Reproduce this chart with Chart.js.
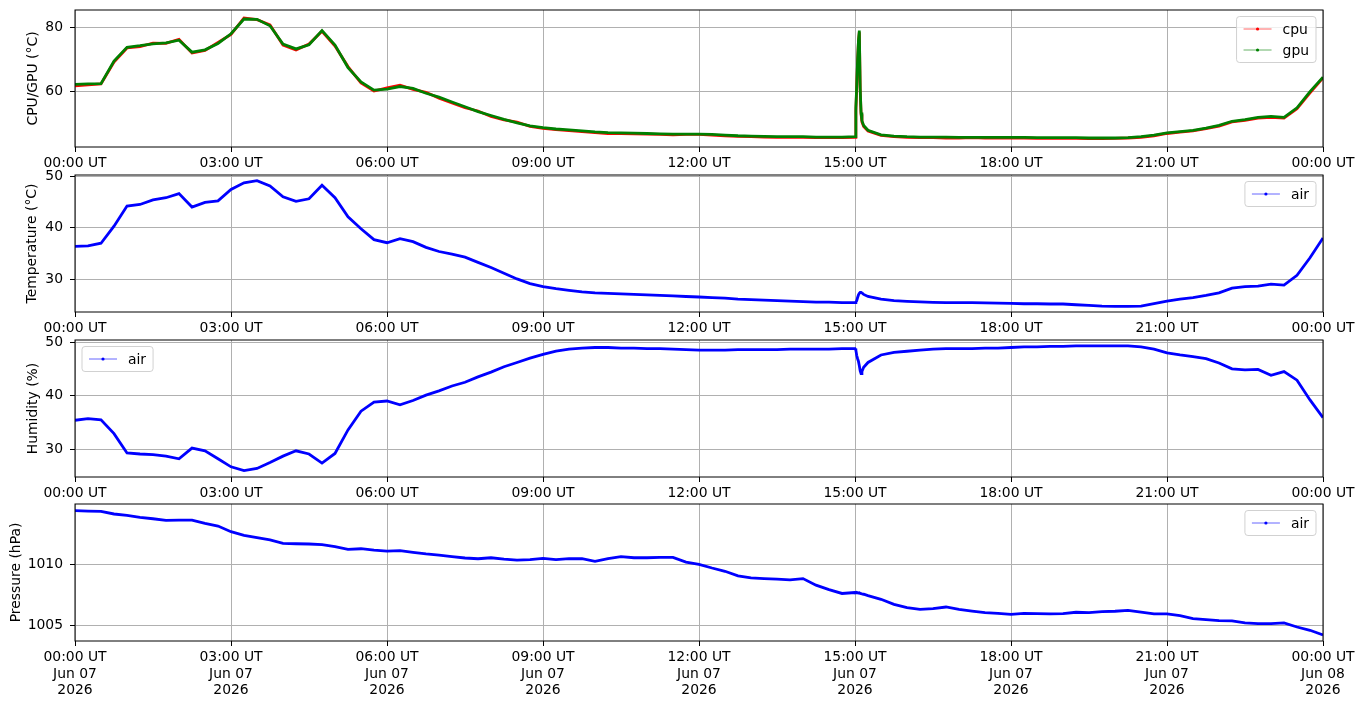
<!DOCTYPE html>
<html>
<head>
<meta charset="utf-8">
<script src="https://cdn.jsdelivr.net/npm/chart.js@4.4.1/dist/chart.umd.min.js"></script>
<style>
html, body { margin: 0; padding: 0; background: #fff; }
#fig { position: relative; width: 1364px; height: 707px; overflow: hidden; }
#fig canvas { position: absolute; left: 0; }
</style>
</head>
<body>
<div id="fig"></div>
<script>
// sample times in minutes after 00:00 UT, quarter-hourly plus the burst just after 15:00
const minutes = [...Array(61).keys()].map(i => i * 15)
    .concat([901, 902, 903, 904, 905, 906, 907, 908, 910])
    .concat([...Array(36).keys()].map(i => 915 + i * 15));

const cpu = [
    61.8, 62.1, 62.4, 69.2, 73.6, 74.0, 75.1, 75.0, 76.3, 72.0, 72.8, 75.3,
    77.8, 82.9, 82.4, 80.8, 74.5, 73.0, 74.8, 78.8, 74.2, 67.8, 62.7, 60.2,
    61.2, 62.0, 60.7, 59.8, 58.0, 56.5, 55.0, 54.0, 52.3, 51.2, 50.5, 49.2,
    48.6, 48.2, 47.9, 47.6, 47.3, 47.0, 47.0, 46.9, 46.8, 46.7, 46.6, 46.7,
    46.7, 46.5, 46.3, 46.1, 46.0, 45.9, 45.8, 45.8, 45.8, 45.7, 45.7, 45.7,
    45.8,
    54.0, 61.5, 69.5, 75.5, 78.5, 60.5, 53.0, 50.6, 49.2,
    47.8, 46.4, 46.0,
    45.8, 45.7, 45.7, 45.6, 45.6, 45.7, 45.6, 45.6, 45.6, 45.6, 45.5, 45.5,
    45.5, 45.5, 45.4, 45.4, 45.5, 45.6, 45.8, 46.3, 47.0, 47.4, 47.8, 48.5,
    49.3, 50.6, 51.1, 51.8, 52.0, 51.8, 54.7, 59.6, 64.3
];
const gpu = [
    62.3, 62.4, 62.5, 69.5, 73.8, 74.3, 74.9, 75.2, 76.0, 72.3, 73.0, 75.0,
    78.0, 82.6, 82.5, 80.5, 74.8, 73.3, 74.6, 79.0, 74.5, 67.5, 63.0, 60.5,
    60.8, 61.6, 61.0, 59.5, 58.3, 56.8, 55.3, 53.8, 52.6, 51.4, 50.3, 49.4,
    48.8, 48.4, 48.1, 47.8, 47.5, 47.3, 47.2, 47.1, 47.0, 46.9, 46.8, 46.8,
    46.8, 46.7, 46.5, 46.3, 46.2, 46.1, 46.0, 46.0, 46.0, 45.9, 45.9, 45.9,
    46.0,
    55.0, 62.0, 70.0, 76.0, 79.0, 61.0, 53.5, 51.0, 49.5,
    48.0, 46.6, 46.2,
    46.0, 45.9, 45.9, 45.9, 45.8, 45.8, 45.8, 45.8, 45.8, 45.8, 45.7, 45.7,
    45.7, 45.7, 45.6, 45.6, 45.6, 45.7, 46.0, 46.5, 47.2, 47.6, 48.0, 48.7,
    49.5, 50.8, 51.3, 52.0, 52.3, 52.0, 55.0, 60.0, 64.5
];
const airTemp = [
    36.4, 36.5, 37.0, 40.3, 44.2, 44.5, 45.4, 45.8, 46.6, 44.0, 44.9, 45.2,
    47.4, 48.7, 49.1, 48.1, 46.0, 45.1, 45.6, 48.2, 45.8, 42.1, 39.8, 37.7,
    37.1, 37.9, 37.3, 36.2, 35.4, 34.9, 34.3, 33.3, 32.3, 31.2, 30.1, 29.2,
    28.6, 28.2, 27.9, 27.6, 27.4, 27.3, 27.2, 27.1, 27.0, 26.9, 26.8, 26.7,
    26.6, 26.5, 26.4, 26.2, 26.1, 26.0, 25.9, 25.8, 25.7, 25.6, 25.6, 25.5,
    25.5,
    25.6, 25.9, 26.5, 27.0, 27.3, 27.5, 27.5, 27.4, 27.1,
    26.7, 26.2, 25.9,
    25.75, 25.65, 25.55, 25.5, 25.5, 25.5, 25.45, 25.4, 25.35, 25.3, 25.3, 25.25,
    25.25, 25.1, 25.0, 24.85, 24.8, 24.8, 24.85, 25.3, 25.8, 26.2, 26.5, 26.9,
    27.4, 28.3, 28.6, 28.7, 29.1, 28.9, 30.8, 34.2, 38.0
];
const airHum = [
    35.4, 35.7, 35.5, 32.9, 29.3, 29.1, 29.0, 28.7, 28.2, 30.2, 29.7, 28.2,
    26.7, 26.0, 26.4, 27.5, 28.7, 29.7, 29.1, 27.4, 29.2, 33.6, 37.1, 38.8,
    39.0, 38.3, 39.1, 40.1, 40.9, 41.8, 42.5, 43.5, 44.4, 45.4, 46.2, 47.0,
    47.7, 48.3, 48.7, 48.9, 49.0, 49.0, 48.9, 48.9, 48.8, 48.8, 48.7, 48.6,
    48.5, 48.5, 48.5, 48.6, 48.6, 48.6, 48.6, 48.7, 48.7, 48.7, 48.7, 48.8,
    48.8,
    48.5, 47.5, 46.9, 46.4, 45.6, 44.6, 44.1, 44.5, 45.3,
    46.2, 47.6, 48.1,
    48.3, 48.5, 48.7, 48.8, 48.8, 48.8, 48.9, 48.9, 49.0, 49.1, 49.1, 49.2,
    49.2, 49.3, 49.3, 49.3, 49.3, 49.3, 49.1, 48.7, 48.0, 47.6, 47.3, 46.9,
    46.1, 45.0, 44.8, 44.9, 43.8, 44.5, 42.9, 39.2, 35.9
];
const airPres = [
    1014.40, 1014.37, 1014.34, 1014.13, 1014.02, 1013.85, 1013.74, 1013.61,
    1013.63, 1013.63, 1013.36, 1013.14, 1012.68, 1012.38, 1012.19, 1012.00,
    1011.72, 1011.69, 1011.67, 1011.61, 1011.45, 1011.23, 1011.28, 1011.17,
    1011.09, 1011.12, 1010.98, 1010.85, 1010.75, 1010.63, 1010.52, 1010.46,
    1010.54, 1010.43, 1010.35, 1010.38, 1010.49, 1010.38, 1010.46, 1010.46,
    1010.24, 1010.46, 1010.63, 1010.54, 1010.54, 1010.57, 1010.57, 1010.19,
    1010.00, 1009.70, 1009.43, 1009.05, 1008.89, 1008.83, 1008.78, 1008.72,
    1008.83, 1008.29, 1007.93, 1007.61, 1007.69,
    1007.68, 1007.70, 1007.66, 1007.64, 1007.67, 1007.62, 1007.60, 1007.58, 1007.55,
    1007.43, 1007.13, 1006.72,
    1006.45, 1006.31, 1006.37, 1006.50, 1006.31, 1006.17, 1006.04, 1005.98,
    1005.90, 1005.98, 1005.96, 1005.93, 1005.96, 1006.07, 1006.04, 1006.12,
    1006.15, 1006.23, 1006.07, 1005.93, 1005.93, 1005.79, 1005.55, 1005.46,
    1005.38, 1005.36, 1005.19, 1005.14, 1005.14, 1005.19, 1004.86, 1004.59,
    1004.21
];

const cpuTicks = [60, 80];
const tempTicks = [30, 40, 50];
const humTicks = [30, 40, 50];
const presTicks = [1005, 1010];
const dayLabels = ["Jun 07", "Jun 08"];
const yearLabel = "2026";

const FONT = "'DejaVu Sans', sans-serif";
const FS = 13.9;

const pts = ys => minutes.map((m, i) => ({ x: m, y: ys[i] }));
const hhmm = v => String(Math.floor(v / 60) % 24).padStart(2, "0") + ":00 UT";

// matplotlib-like legend box and axes frame
const frameLegend = {
    id: "frameLegend",
    afterDraw(chart, args, opts) {
        const { ctx, chartArea: a } = chart;
        ctx.save();
        ctx.strokeStyle = "#000";
        ctx.lineWidth = 1;
        ctx.strokeRect(a.left, a.top, a.width, a.height);

        const sets = chart.data.datasets;
        ctx.font = FS + "px " + FONT;
        const tw = Math.max(...sets.map(d => ctx.measureText(d.label).width));
        const w = 7 + 28 + 11 + tw + 7;
        const h = 4 + 21 * sets.length;
        const x = opts.loc === "left" ? a.left + 7 : a.right - 7 - w;
        const y = a.top + 6.5;
        ctx.beginPath();
        ctx.roundRect(x, y, w, h, 3);
        ctx.fillStyle = "rgba(255,255,255,0.8)";
        ctx.fill();
        ctx.strokeStyle = "rgba(204,204,204,0.9)";
        ctx.stroke();

        sets.forEach((d, i) => {
            const cy = y + 12.5 + 21 * i;
            ctx.globalAlpha = 0.6;
            ctx.strokeStyle = d.borderColor;
            ctx.lineWidth = 1;
            ctx.beginPath();
            ctx.moveTo(x + 7, cy);
            ctx.lineTo(x + 35, cy);
            ctx.stroke();
            ctx.globalAlpha = 1;
            ctx.fillStyle = d.borderColor;
            ctx.beginPath();
            ctx.arc(x + 21, cy, 1.6, 0, Math.PI * 2);
            ctx.fill();
            ctx.fillStyle = "#000";
            ctx.textBaseline = "middle";
            ctx.fillText(d.label, x + 46, cy + 1);
        });
        ctx.restore();
    }
};

const line = (label, ys, color, order) => ({
    label,
    data: pts(ys),
    borderColor: color,
    backgroundColor: color,
    borderWidth: 2.8,
    pointRadius: 0,
    tension: 0,
    order
});

const panels = [
    { top: 0, xh: 30, padLeft: 21, yMin: 42.8, yMax: 85.4, yTicks: cpuTicks,
      title: "CPU/GPU (°C)", loc: "right",
      datasets: [line("cpu", cpu, "red", 1), line("gpu", gpu, "green", 0)] },
    { top: 165, xh: 30, padLeft: 20, yMin: 23.7, yMax: 50.2, yTicks: tempTicks,
      title: "Temperature (°C)", loc: "right",
      datasets: [line("air", airTemp, "blue", 0)] },
    { top: 330, xh: 30, padLeft: 21, yMin: 24.8, yMax: 50.4, yTicks: humTicks,
      title: "Humidity (%)", loc: "left",
      datasets: [line("air", airHum, "blue", 0)] },
    { top: 494, xh: 66, padLeft: 4, yMin: 1003.71, yMax: 1014.95, yTicks: presTicks,
      title: "Pressure (hPa)", loc: "right", dates: true,
      datasets: [line("air", airPres, "blue", 0)] }
];

const fig = document.getElementById("fig");
panels.forEach(p => {
    const canvas = document.createElement("canvas");
    const height = 10 + 137 + p.xh;
    canvas.width = 1364;
    canvas.height = height;
    canvas.style.top = p.top + "px";
    fig.appendChild(canvas);

    new Chart(canvas, {
        type: "line",
        data: { datasets: p.datasets },
        plugins: [frameLegend],
        options: {
            responsive: false,
            animation: false,
            devicePixelRatio: 1,
            layout: { padding: { top: 10, left: p.padLeft, right: 41, bottom: 0 } },
            font: { family: FONT, size: FS },
            plugins: {
                legend: { display: false },
                tooltip: { enabled: false },
                frameLegend: { loc: p.loc }
            },
            scales: {
                x: {
                    type: "linear",
                    min: 0,
                    max: 1440,
                    afterFit: s => { s.height = p.xh; },
                    afterBuildTicks: s => { s.ticks = [0, 180, 360, 540, 720, 900, 1080, 1260, 1440].map(v => ({ value: v })); },
                    border: { display: false },
                    grid: { color: "#b0b0b0", lineWidth: 1, tickColor: "#000", tickLength: 5 },
                    ticks: {
                        color: "#000",
                        font: { family: FONT, size: FS },
                        padding: 3,
                        maxRotation: 0,
                        autoSkip: false,
                        callback: v => p.dates
                            ? [hhmm(v), v < 1440 ? dayLabels[0] : dayLabels[1], yearLabel]
                            : hhmm(v)
                    }
                },
                y: {
                    type: "linear",
                    min: p.yMin,
                    max: p.yMax,
                    afterFit: s => {
                        s.width = 75 - p.padLeft;
                        s.paddingTop = 0;
                        s.paddingBottom = 0;
                    },
                    afterBuildTicks: s => { s.ticks = p.yTicks.map(v => ({ value: v })); },
                    border: { display: false },
                    grid: { color: "#b0b0b0", lineWidth: 1, tickColor: "#000", tickLength: 5 },
                    ticks: {
                        color: "#000",
                        font: { family: FONT, size: FS },
                        padding: 7,
                        callback: v => String(v)
                    },
                    title: {
                        display: true,
                        text: p.title,
                        color: "#000",
                        font: { family: FONT, size: FS },
                        padding: { top: 4, bottom: 0 }
                    }
                }
            }
        }
    });
});
</script>
</body>
</html>
